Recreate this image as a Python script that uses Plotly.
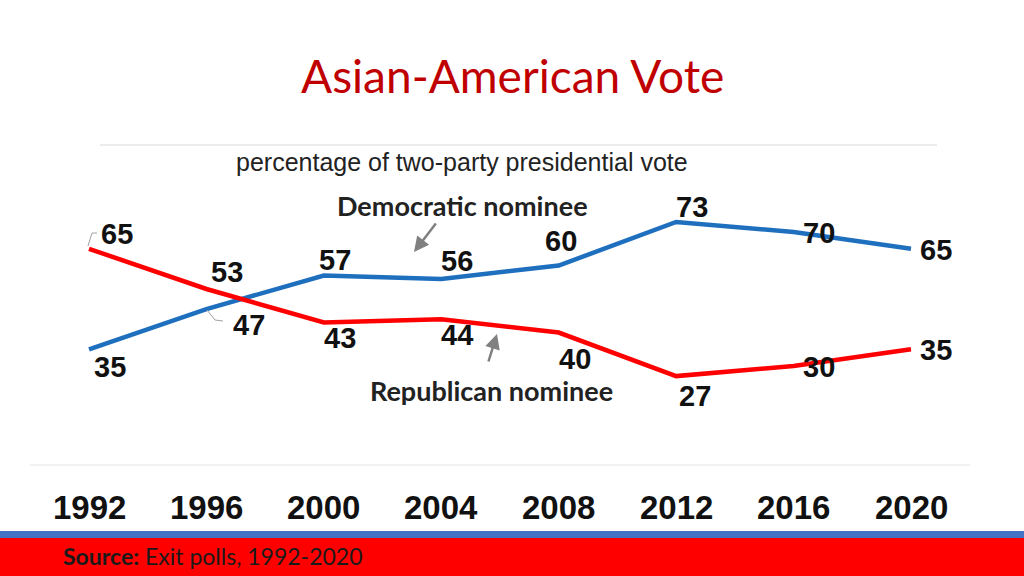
import plotly.graph_objects as go

years = [1992, 1996, 2000, 2004, 2008, 2012, 2016, 2020]
dem = [35, 47, 57, 56, 60, 73, 70, 65]
rep = [65, 53, 43, 44, 40, 27, 30, 35]
year_labels = ["1992", "1996", "2000", "2004", "2008", "2012", "2016", "2020"]

W, H = 1024, 576
BLUE = "#1f6fbf"
RED = "#ff0000"

# label offsets (pixels) relative to each point
dem_off = [(21, -18), (43, -16), (11, 16), (16, 18), (2, 25), (16, 15), (25, -1), (25, -1)]
rep_off = [(28, 15), (21, 17), (16, -15), (16, -16), (16, -26), (19, -20), (25, -1), (25, -1)]

# axis calibration: 1992 -> 89px, 2020 -> 911px ; value 73 -> 222px, 3.35 px/unit
px_per_year = (911 - 89) / 28.0
px_per_unit = 3.35
x0 = 1992 - 89 / px_per_year
x1 = 1992 + (W - 89) / px_per_year
y_top = 73 + 222 / px_per_unit
y_bot = 73 - (H - 222) / px_per_unit


def px(xp):
    return 1992 + (xp - 89) / px_per_year


def py(yp):
    return 73 - (yp - 222) / px_per_unit


fig = go.Figure()
fig.add_trace(go.Scatter(x=years, y=dem, mode="lines", line=dict(color=BLUE, width=4.5),
                         hoverinfo="skip", showlegend=False))
fig.add_trace(go.Scatter(x=years, y=rep, mode="lines", line=dict(color=RED, width=4.5),
                         hoverinfo="skip", showlegend=False))

ann = []
lab_font = dict(family="Liberation Sans, Arial", size=29, color="#111111")
for yr, v, (dx, dy) in zip(years, dem, dem_off):
    ann.append(dict(x=yr, y=v, xref="x", yref="y", text="<b>%d</b>" % v, showarrow=False,
                    xanchor="center", yanchor="middle", xshift=dx, yshift=dy, font=lab_font,
                    borderpad=0))
for yr, v, (dx, dy) in zip(years, rep, rep_off):
    ann.append(dict(x=yr, y=v, xref="x", yref="y", text="<b>%d</b>" % v, showarrow=False,
                    xanchor="center", yanchor="middle", xshift=dx, yshift=dy, font=lab_font,
                    borderpad=0))

# year tick labels
for yr, t in zip(years, year_labels):
    ann.append(dict(x=yr, y=1 - 507 / H, xref="x", yref="paper", text="<b>%s</b>" % t,
                    xanchor="center", yanchor="middle", showarrow=False,
                    font=dict(family="Liberation Sans, Arial", size=33, color="#111111")))


def txt(xp, yp, text, size, family="Lato", color="#222222", xanchor="center"):
    return dict(x=xp / W, y=1 - yp / H, xref="paper", yref="paper", text=text, showarrow=False,
                xanchor=xanchor, yanchor="middle", borderpad=0,
                font=dict(family=family, size=size, color=color))


ann.append(txt(512, 76, "Asian-American Vote", 46, color="#c00000"))
ann.append(txt(462, 162, "percentage of two-party presidential vote", 25,
               family="Liberation Sans, Arial", color="#222222"))
ann.append(txt(462, 205, "<b>Democratic nominee</b>", 27))
ann.append(txt(491, 390, "<b>Republican nominee</b>", 27))
ann.append(txt(62, 556, "<b>Source:</b> Exit polls, 1992-2020", 23, color="#1a1a1a", xanchor="left"))

# arrows
ann.append(dict(x=px(414), y=py(252), xref="x", yref="y", ax=437 - 414, ay=222 - 252, text="",
                showarrow=True, arrowhead=2, arrowsize=1.2, arrowwidth=2.5, arrowcolor="#808080"))
ann.append(dict(x=px(497), y=py(334), xref="x", yref="y", ax=488 - 497, ay=363 - 334, text="",
                showarrow=True, arrowhead=2, arrowsize=1.2, arrowwidth=2.5, arrowcolor="#808080"))

shapes = [
    dict(type="line", xref="paper", yref="paper", x0=100 / W, x1=937 / W, y0=1 - 145 / H, y1=1 - 145 / H,
         line=dict(color="#d9d9d9", width=1.2)),
    dict(type="line", xref="paper", yref="paper", x0=30 / W, x1=970 / W, y0=1 - 465 / H, y1=1 - 465 / H,
         line=dict(color="#e6e6e6", width=1.2)),
    dict(type="rect", xref="paper", yref="paper", x0=0, x1=1, y0=1 - 538 / H, y1=1 - 531 / H,
         line=dict(width=0), fillcolor="#4472c4", layer="below"),
    dict(type="rect", xref="paper", yref="paper", x0=0, x1=1, y0=0, y1=1 - 538 / H,
         line=dict(width=0), fillcolor="#ff0000", layer="below"),
    # leader lines
    dict(type="path", xref="x", yref="y",
         path="M %f,%f L %f,%f L %f,%f" % (px(88), py(246), px(92), py(233), px(97), py(233)),
         line=dict(color="#a0a0a0", width=1)),
    dict(type="path", xref="x", yref="y",
         path="M %f,%f L %f,%f L %f,%f" % (px(207), py(310), px(215), py(320), px(223), py(321)),
         line=dict(color="#a0a0a0", width=1)),
]

fig.update_layout(
    width=W, height=H, margin=dict(l=0, r=0, t=0, b=0),
    paper_bgcolor="white", plot_bgcolor="rgba(0,0,0,0)",
    xaxis=dict(range=[x0, x1], visible=False, fixedrange=True),
    yaxis=dict(range=[y_bot, y_top], visible=False, fixedrange=True),
    annotations=ann, shapes=shapes, showlegend=False,
)

fig.write_html("out.html", config={"displayModeBar": False},
               post_script="document.body.style.margin='0';document.body.style.overflow='hidden';")
